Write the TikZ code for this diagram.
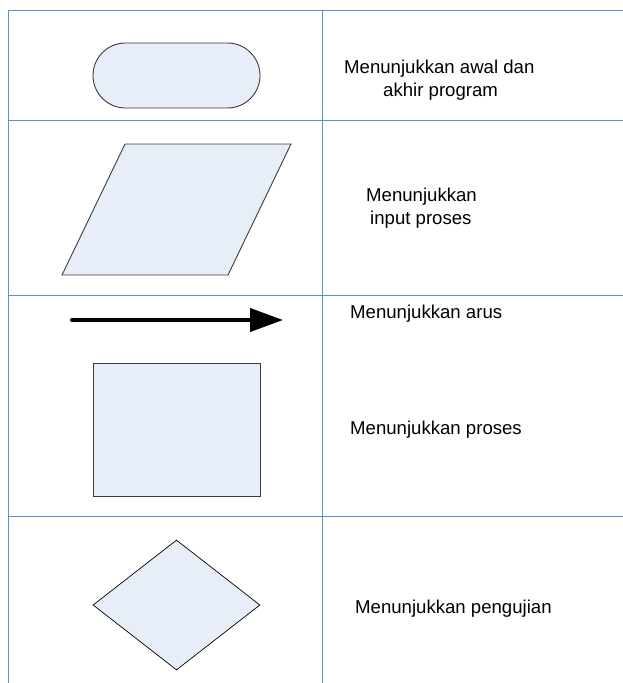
\documentclass[tikz,border=0pt]{standalone}
\usepackage{fontspec}
\setmainfont{Liberation Sans}
\usetikzlibrary{shapes.misc,shapes.geometric,arrows.meta}
\definecolor{gridblue}{RGB}{92,142,218}
\definecolor{shapefill}{RGB}{232,238,247}
\definecolor{shapeline}{RGB}{60,60,60}
\begin{document}
\begin{tikzpicture}[x=1pt,y=-1pt,
  grid/.style={draw=gridblue,line width=1pt},
  symbol/.style={fill=shapefill,draw=shapeline,line width=0.9pt,inner sep=0pt},
  label/.style={anchor=base west,inner sep=0pt,font=\fontsize{18.6}{22}\selectfont},
  flow/.style={line width=4pt,line cap=round,-{Triangle[length=33pt,width=23pt]}}]
\useasboundingbox (0,0) rectangle (623,683);
% table rules
\draw[grid] (8,683) -- (8,10) -- (623,10);
\draw[grid] (322,10) -- (322,683);
\draw[grid] (8,120) -- (623,120);
\draw[grid] (8,295) -- (623,295);
\draw[grid] (8,516) -- (623,516);
% terminal
\node[symbol,rounded rectangle,minimum width=167pt,minimum height=65pt] (term) at (176.5,75.5) {};
% input/output parallelogram
\coordinate (p1) at (62,275);
\coordinate (p2) at (228,275);
\coordinate (p3) at (291,144);
\coordinate (p4) at (125,144);
\draw[symbol] (p1) -- (p2) -- (p3) -- (p4) -- cycle;
% flow arrow
\coordinate (fs) at (72,320);
\coordinate (fe) at (283,320);
\draw[flow] (fs) -- (fe);
% process box
\node[symbol,rectangle,minimum width=167pt,minimum height=133pt] (proc) at (176.5,429.5) {};
% decision
\node[symbol,diamond,draw=black,line width=0.7pt,minimum width=167pt,minimum height=130pt,aspect=1.28] (dec) at (176.5,605) {};
% descriptions
\node[label] (t1a) at (344,73) {Menunjukkan awal dan};
\node[label] (t1b) at (383,96) {akhir program};
\node[label] (t2a) at (366,201) {Menunjukkan};
\node[label] (t2b) at (370,224) {input proses};
\node[label] (t3) at (350,318) {Menunjukkan arus};
\node[label] (t4) at (350,434) {Menunjukkan proses};
\node[label] (t5) at (355,613) {Menunjukkan pengujian};
\end{tikzpicture}
\end{document}
